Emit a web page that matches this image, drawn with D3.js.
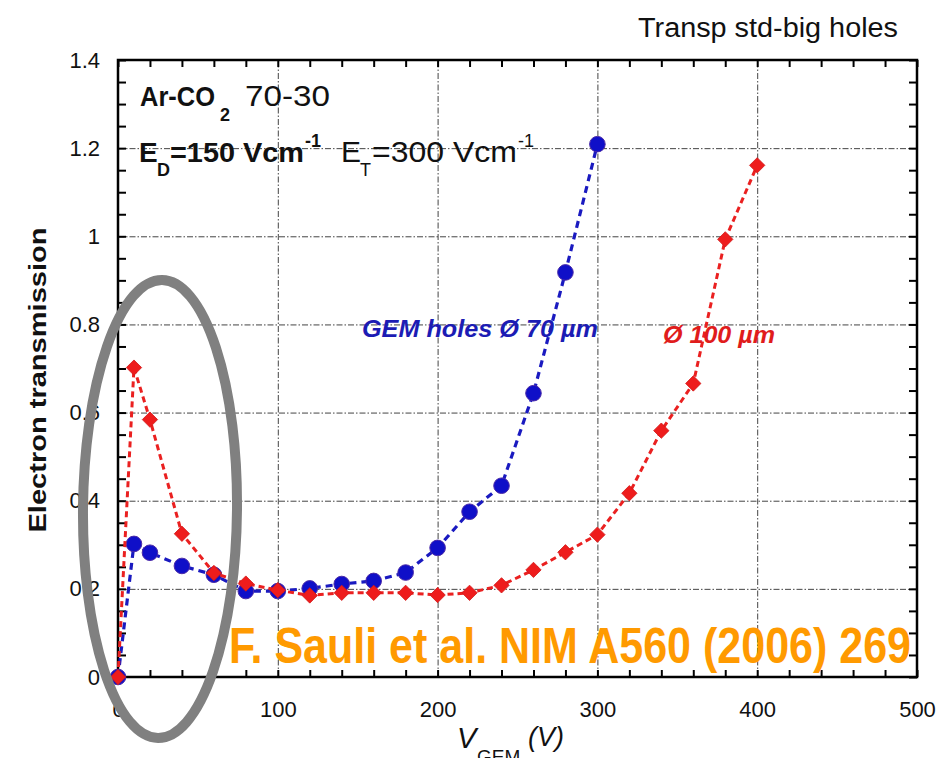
<!DOCTYPE html>
<html>
<head>
<meta charset="utf-8">
<script src="https://cdn.jsdelivr.net/npm/d3@7"></script>
<style>
  html, body { margin: 0; padding: 0; background: #fff; }
  svg { display: block; font-family: "Liberation Sans", Arial, Helvetica, sans-serif; }
</style>
</head>
<body>
<svg id="chart" width="938" height="758"></svg>
<script>
// ---- data ----
const voltsBlue = [0, 10, 20, 40, 60, 80, 100, 120, 140, 160, 180, 200, 220, 240, 260, 280, 300];
const transBlue = [0, 0.302, 0.282, 0.252, 0.232, 0.195, 0.195, 0.201, 0.211, 0.218, 0.237, 0.293, 0.375, 0.434, 0.644, 0.918, 1.209];
const voltsRed = [0, 10, 20, 40, 60, 80, 100, 120, 140, 160, 180, 200, 220, 240, 260, 280, 300, 320, 340, 360, 380, 400];
const transRed = [0, 0.702, 0.584, 0.325, 0.236, 0.212, 0.197, 0.185, 0.191, 0.191, 0.191, 0.186, 0.191, 0.208, 0.243, 0.283, 0.323, 0.417, 0.559, 0.666, 0.993, 1.161];
const xTicks = [0, 100, 200, 300, 400, 500];
const xTickLabels = ["0", "100", "200", "300", "400", "500"];
const yTicks = [0, 0.2, 0.4, 0.6, 0.8, 1.0, 1.2, 1.4];
const yTickLabels = ["0", "0.2", "0.4", "0.6", "0.8", "1", "1.2", "1.4"];

// ---- layout ----
const svg = d3.select("#chart");
const L = 118, R = 917, T = 60, B = 677;
const x = d3.scaleLinear().domain([0, 500]).range([L, R]);
const y = d3.scaleLinear().domain([0, 1.4]).range([B, T]);

// grid lines (dash-dot)
const grid = svg.append("g");
grid.append("g").attr("transform", `translate(0,${B})`)
  .call(d3.axisBottom(x).tickValues([100, 200, 300, 400]).tickSize(-(B - T)).tickFormat(""))
  .call(g => g.select(".domain").remove())
  .call(g => g.selectAll("line").attr("stroke", "#444").attr("stroke-width", 1).attr("stroke-dasharray", "6,2,1.5,2"));
grid.append("g").attr("transform", `translate(${L},0)`)
  .call(d3.axisLeft(y).tickValues([0.2, 0.4, 0.6, 0.8, 1.0, 1.2]).tickSize(-(R - L)).tickFormat(""))
  .call(g => g.select(".domain").remove())
  .call(g => g.selectAll("line").attr("stroke", "#444").attr("stroke-width", 1).attr("stroke-dasharray", "6,2,1.5,2"));

// minor/major ticks (inward) on all four sides
const xMinor = d3.range(0, 501, 20);
const yMinor = d3.range(0, 1.401, 0.05);
function styleTicks(g) {
  g.select(".domain").remove();
  g.selectAll("line").attr("stroke", "#000").attr("stroke-width", 2);
}
svg.append("g").attr("transform", `translate(0,${B})`)
  .call(d3.axisBottom(x).tickValues(xMinor).tickSize(-7).tickFormat("")).call(styleTicks);
svg.append("g").attr("transform", `translate(0,${T})`)
  .call(d3.axisTop(x).tickValues(xMinor).tickSize(-7).tickFormat("")).call(styleTicks);
svg.append("g").attr("transform", `translate(${L},0)`)
  .call(d3.axisLeft(y).tickValues(yMinor).tickSize(-8).tickFormat("")).call(styleTicks);
svg.append("g").attr("transform", `translate(${R},0)`)
  .call(d3.axisRight(y).tickValues(yMinor).tickSize(-8).tickFormat("")).call(styleTicks);

// tick labels
svg.append("g").attr("transform", `translate(0,${B})`)
  .call(d3.axisBottom(x).tickValues(xTicks).tickSize(0).tickPadding(24).tickFormat((d, i) => xTickLabels[i]))
  .call(g => g.select(".domain").remove())
  .call(g => g.selectAll("text").attr("font-size", 22).attr("fill", "#111").attr("font-family", "Liberation Sans, Arial, sans-serif"));
svg.append("g").attr("transform", `translate(${L},0)`)
  .call(d3.axisLeft(y).tickValues(yTicks).tickSize(0).tickPadding(18).tickFormat((d, i) => yTickLabels[i]))
  .call(g => g.select(".domain").remove())
  .call(g => g.selectAll("text").attr("font-size", 22).attr("fill", "#111").attr("font-family", "Liberation Sans, Arial, sans-serif"));

// frame
svg.append("rect").attr("x", L).attr("y", T).attr("width", R - L).attr("height", B - T)
  .attr("fill", "none").attr("stroke", "#000").attr("stroke-width", 2.5);

// ---- series ----
const blueData = voltsBlue.map((v, i) => [v, transBlue[i]]);
const redData = voltsRed.map((v, i) => [v, transRed[i]]);
const line = d3.line().x(d => x(d[0])).y(d => y(d[1]));

svg.append("path").datum(blueData).attr("d", line)
  .attr("fill", "none").attr("stroke", "#1a1ac0").attr("stroke-width", 3.2).attr("stroke-dasharray", "7,5");
svg.append("g").selectAll("circle").data(blueData).join("circle")
  .attr("cx", d => x(d[0])).attr("cy", d => y(d[1])).attr("r", 7.8)
  .attr("fill", "#0f0fc8").attr("stroke", "#4a2aa8").attr("stroke-width", 1);

svg.append("path").datum(redData).attr("d", line)
  .attr("fill", "none").attr("stroke", "#ea2020").attr("stroke-width", 3).attr("stroke-dasharray", "6,4");
const diamond = d3.symbol().type(d3.symbolDiamond2).size(150);
svg.append("g").selectAll("path").data(redData).join("path")
  .attr("d", diamond)
  .attr("transform", d => `translate(${x(d[0])},${y(d[1])})`)
  .attr("fill", "#ee1c1c").attr("stroke", "#d01818").attr("stroke-width", 0.8);

// ---- texts ----
svg.append("text").attr("x", 638).attr("y", 37).attr("font-size", 27).attr("fill", "#111")
  .attr("textLength", 260).attr("lengthAdjust", "spacingAndGlyphs").text("Transp std-big holes");

// Ar-CO2 70-30
const t1 = svg.append("text").attr("y", 106).attr("fill", "#111");
t1.append("tspan").attr("x", 140).attr("font-size", 27).attr("font-weight", "bold")
  .attr("textLength", 75).attr("lengthAdjust", "spacingAndGlyphs").text("Ar-CO");
t1.append("tspan").attr("x", 220).attr("dy", 15).attr("font-size", 18).attr("font-weight", "bold").text("2");
t1.append("tspan").attr("x", 245).attr("dy", -15).attr("font-size", 30)
  .attr("textLength", 85).attr("lengthAdjust", "spacingAndGlyphs").text("70-30");

// E_D=150 Vcm-1  E_T=300 Vcm-1
const t2 = svg.append("text").attr("y", 162).attr("fill", "#111");
t2.append("tspan").attr("x", 139).attr("font-size", 28).attr("font-weight", "bold").text("E");
t2.append("tspan").attr("x", 157).attr("dy", 14).attr("font-size", 18).attr("font-weight", "bold").text("D");
t2.append("tspan").attr("x", 170).attr("dy", -14).attr("font-size", 28).attr("font-weight", "bold")
  .attr("textLength", 134).attr("lengthAdjust", "spacingAndGlyphs").text("=150 Vcm");
t2.append("tspan").attr("x", 305).attr("dy", -15).attr("font-size", 18).attr("font-weight", "bold").text("-1");
t2.append("tspan").attr("x", 341).attr("dy", 15).attr("font-size", 30).text("E");
t2.append("tspan").attr("x", 360).attr("dy", 14).attr("font-size", 18).text("T");
t2.append("tspan").attr("x", 372).attr("dy", -14).attr("font-size", 30)
  .attr("textLength", 145).attr("lengthAdjust", "spacingAndGlyphs").text("=300 Vcm");
t2.append("tspan").attr("x", 518).attr("dy", -15).attr("font-size", 18).text("-1");

// series labels
svg.append("text").attr("x", 362).attr("y", 337).attr("font-size", 24).attr("font-weight", "bold")
  .attr("font-style", "italic").attr("fill", "#1c1cb4")
  .attr("textLength", 236).attr("lengthAdjust", "spacingAndGlyphs").text("GEM holes Ø 70 µm");
svg.append("text").attr("x", 663).attr("y", 343).attr("font-size", 24).attr("font-weight", "bold")
  .attr("font-style", "italic").attr("fill", "#e01c1c")
  .attr("textLength", 112).attr("lengthAdjust", "spacingAndGlyphs").text("Ø 100 µm");

// axis titles
svg.append("text").attr("transform", "translate(46,380) rotate(-90)").attr("text-anchor", "middle")
  .attr("font-size", 24).attr("font-weight", "bold").attr("fill", "#111")
  .attr("textLength", 305).attr("lengthAdjust", "spacingAndGlyphs").text("Electron transmission");
const xt = svg.append("text").attr("y", 748).attr("fill", "#111").attr("font-style", "italic");
xt.append("tspan").attr("x", 457).attr("font-size", 29).text("V");
xt.append("tspan").attr("x", 477).attr("dy", 15).attr("font-size", 19).attr("font-style", "normal").text("GEM");
xt.append("tspan").attr("x", 528).attr("dy", -17).attr("font-size", 27).text("(V)");

// reference
svg.append("text").attr("x", 229).attr("y", 663).attr("font-size", 50).attr("font-weight", "bold")
  .attr("fill", "#ff9a00").attr("font-family", "'Liberation Sans Narrow', 'Arial Narrow', 'Liberation Sans', sans-serif")
  .attr("textLength", 682).attr("lengthAdjust", "spacingAndGlyphs").text("F. Sauli et al. NIM A560 (2006) 269");

// grey ellipse highlight
svg.append("ellipse").attr("cx", 160).attr("cy", 509).attr("rx", 77).attr("ry", 229)
  .attr("transform", "rotate(0.5,160,509)")
  .attr("fill", "none").attr("stroke", "#808080").attr("stroke-width", 10);
</script>
</body>
</html>
